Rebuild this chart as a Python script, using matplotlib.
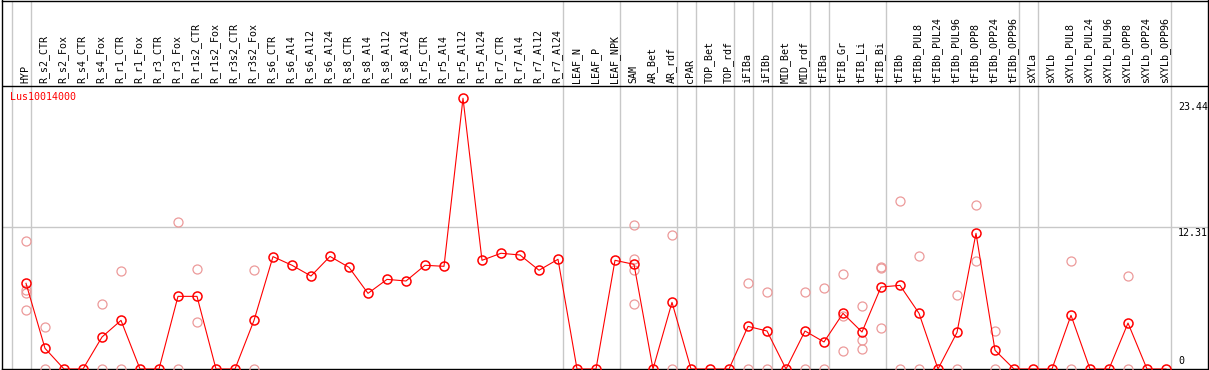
import matplotlib.pyplot as plt
import numpy as np

# column names (tissues / conditions)
samples = ['HYP', 'R_s2_CTR', 'R_s2_Fox', 'R_s4_CTR', 'R_s4_Fox', 'R_r1_CTR', 'R_r1_Fox',
           'R_r3_CTR', 'R_r3_Fox', 'R_r1s2_CTR', 'R_r1s2_Fox', 'R_r3s2_CTR', 'R_r3s2_Fox',
           'R_s6_CTR', 'R_s6_Al4', 'R_s6_Al12', 'R_s6_Al24', 'R_s8_CTR', 'R_s8_Al4',
           'R_s8_Al12', 'R_s8_Al24', 'R_r5_CTR', 'R_r5_Al4', 'R_r5_Al12', 'R_r5_Al24',
           'R_r7_CTR', 'R_r7_Al4', 'R_r7_Al12', 'R_r7_Al24', 'LEAF_N', 'LEAF_P', 'LEAF_NPK',
           'SAM', 'AR_Bet', 'AR_rdf', 'cPAR', 'TOP_Bet', 'TOP_rdf', 'iFIBa', 'iFIBb',
           'MID_Bet', 'MID_rdf', 'tFIBa', 'tFIB_Gr', 'tFIB_Li', 'tFIB_Bi', 'tFIBb',
           'tFIBb_PUL8', 'tFIBb_PUL24', 'tFIBb_PUL96', 'tFIBb_OPP8', 'tFIBb_OPP24',
           'tFIBb_OPP96', 'sXYLa', 'sXYLb', 'sXYLb_PUL8', 'sXYLb_PUL24', 'sXYLb_PUL96',
           'sXYLb_OPP8', 'sXYLb_OPP24', 'sXYLb_OPP96']

# mean expression per column
means = [7.42, 1.79, 0, 0, 2.77, 4.21, 0, 0, 6.29, 6.29, 0, 0, 4.21, 9.73, 8.98,
         8.05, 9.75, 8.80, 6.55, 7.76, 7.62, 8.98, 8.89, 23.44, 9.41, 10.02, 9.87, 8.55, 9.50,
         0, 0, 9.41, 9.06, 0, 5.77, 0, 0, 0, 3.69, 3.29, 0, 3.29, 2.34, 4.82, 3.20, 7.10,
         7.24, 4.82, 0, 3.17, 11.75, 1.62, 0, 0, 0, 4.65, 0, 0, 3.98, 0, 0]

# individual replicates (pale circles)
replicates = [[11.06, 6.84, 6.61, 5.08], [3.64, 0], [], [], [5.6, 0], [8.46, 0], [], [],
              [12.7, 0], [8.63, 4.04], [], [], [8.55, 0], [], [],
              [], [], [], [], [], [], [], [], [], [], [], [], [], [],
              [], [], [], [12.44, 9.5, 8.55, 5.6], [], [11.58, 0], [], [], [],
              [7.42, 0], [6.64, 0], [], [6.64, 0], [6.98, 0], [8.23, 4.62, 1.53],
              [5.43, 2.48, 1.73], [8.86, 8.77, 3.52], [14.55, 0], [9.78, 0], [],
              [6.38, 0], [14.17, 9.32], [3.29, 0], [], [], [], [9.35, 0], [], [],
              [8.03, 0], [], []]

# last column index of each group (separators)
group_ends = [-1, 0, 28, 31, 34, 35, 37, 38, 39, 41, 42, 45, 52, 53, 60]

y_ticks = [23.44, 12.31, 0]
gene = 'Lus10014000'

PX = 11.55  # pixels per unit
mono = 'DejaVu Sans Mono'
fs = 7.2

fig = plt.figure(figsize=(12.09, 3.70), dpi=100)
ax = fig.add_axes([1.5 / 1209, 1 / 370, 1206 / 1209, 368.5 / 370])
x0 = -(26 - 1.5) / 19
ax.set_xlim(x0, x0 + 1206 / 19)
ax.set_ylim(0, 368.5 / PX)
ax.set_xticks([])
ax.set_yticks([])
for s in ax.spines.values():
    s.set_linewidth(1.0)
    s.set_color('black')

xs = np.arange(len(samples))

for g in group_ends:
    ax.axvline(g + 0.25, color='#c8c8c8', lw=1.0, zorder=1)
ax.axhline(y_ticks[1], color='#c8c8c8', lw=1.0, zorder=1)

header_val = (369 - 86) / PX
ax.axhline(header_val, color='black', lw=1.0, zorder=2)

# replicates
for i, reps in enumerate(replicates):
    if reps:
        ax.plot([i] * len(reps), reps, 'o', ms=6.5, mfc='none', mec='#ec9a9a',
                mew=0.9, zorder=3)

ax.plot(xs, means, '-', color='#ff0000', lw=0.8, zorder=4)
ax.plot(xs, means, 'o', ms=6.5, mfc='none', mec='#ff0000', mew=1.1, zorder=5)

for i, name in enumerate(samples):
    ax.annotate(name, (i - 0.05, header_val), xytext=(0, 2), textcoords='offset points',
                rotation=90, ha='center', va='bottom', fontsize=fs, family=mono)

xr = x0 + (1178 - 1.5) / 19
ax.annotate('%.2f' % y_ticks[0], (xr, y_ticks[0]), xytext=(0, -3), textcoords='offset points',
            ha='left', va='top', fontsize=fs, family=mono)
ax.annotate('%.2f' % y_ticks[1], (xr, y_ticks[1]), xytext=(0, -1), textcoords='offset points',
            ha='left', va='top', fontsize=fs, family=mono)
ax.annotate('0', (xr, y_ticks[2]), xytext=(0, 2), textcoords='offset points',
            ha='left', va='bottom', fontsize=fs, family=mono)

fig.text(10 / 1209, 1 - 97 / 370, gene, color='#ff0000', fontsize=fs, family=mono,
         ha='left', va='center')

fig.savefig('out.png', dpi=100)
